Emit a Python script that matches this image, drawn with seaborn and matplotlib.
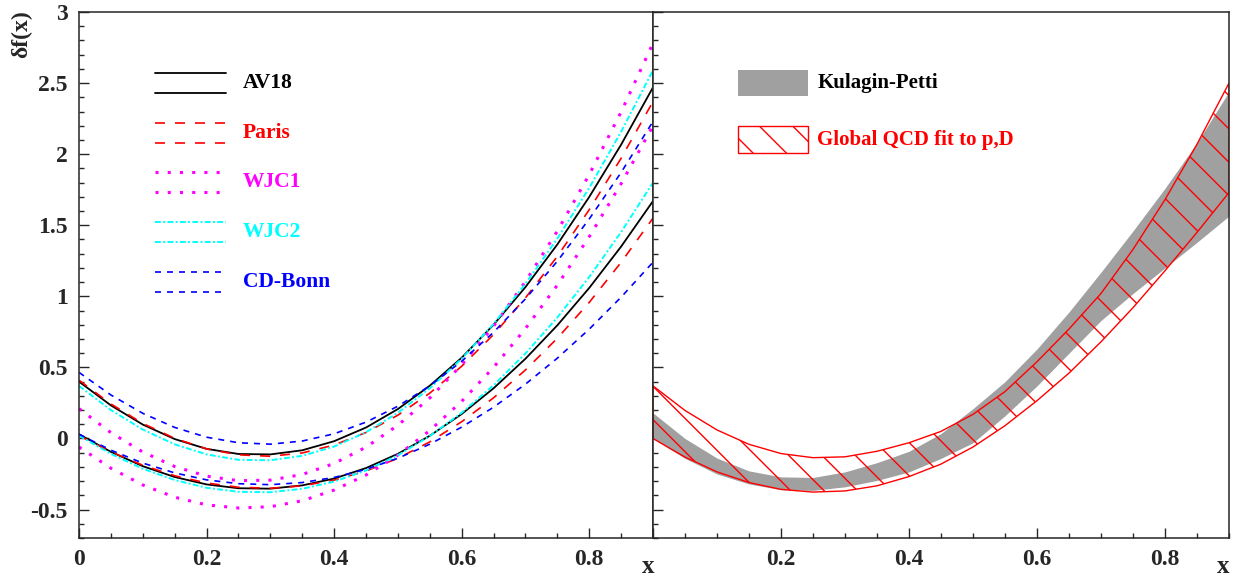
import numpy as np
import seaborn as sns
import matplotlib.pyplot as plt
from matplotlib.ticker import MultipleLocator, FuncFormatter
from matplotlib.patches import Rectangle

# x grid the curves were read at
x = [0.0, 0.05, 0.1, 0.15, 0.2, 0.25, 0.3, 0.35, 0.4, 0.45,
     0.5, 0.55, 0.6, 0.65, 0.7, 0.75, 0.8, 0.85, 0.9]

# left panel: upper / lower curve for each deuteron model
av18_hi = [0.40, 0.233, 0.098, -0.004, -0.073, -0.109, -0.112, -0.083, -0.019, 0.077,
           0.207, 0.371, 0.568, 0.800, 1.065, 1.365, 1.699, 2.067, 2.47]
av18_lo = [0.03, -0.094, -0.195, -0.271, -0.323, -0.350, -0.353, -0.330, -0.282, -0.208,
           -0.108, 0.019, 0.172, 0.353, 0.561, 0.796, 1.059, 1.350, 1.67]
paris_hi = [0.41, 0.243, 0.106, 0.001, -0.073, -0.115, -0.125, -0.102, -0.046, 0.042,
            0.164, 0.319, 0.508, 0.731, 0.989, 1.281, 1.609, 1.971, 2.37]
paris_lo = [0.02, -0.094, -0.188, -0.262, -0.313, -0.343, -0.350, -0.333, -0.293, -0.229,
            -0.139, -0.024, 0.118, 0.286, 0.482, 0.705, 0.957, 1.239, 1.55]
wjc1_hi = [0.21, 0.041, -0.095, -0.197, -0.265, -0.297, -0.293, -0.253, -0.176, -0.061,
           0.093, 0.285, 0.518, 0.790, 1.104, 1.459, 1.856, 2.297, 2.78]
wjc1_lo = [-0.06, -0.209, -0.327, -0.413, -0.467, -0.489, -0.480, -0.438, -0.363, -0.257,
           -0.117, 0.056, 0.261, 0.500, 0.773, 1.079, 1.419, 1.792, 2.20]
wjc2_hi = [0.37, 0.200, 0.063, -0.041, -0.112, -0.150, -0.153, -0.122, -0.057, 0.044,
           0.181, 0.353, 0.561, 0.806, 1.088, 1.406, 1.763, 2.158, 2.59]
wjc2_lo = [0.02, -0.108, -0.213, -0.292, -0.347, -0.375, -0.378, -0.354, -0.303, -0.225,
           -0.118, 0.017, 0.181, 0.374, 0.598, 0.851, 1.136, 1.452, 1.80]
cdbonn_hi = [0.465, 0.306, 0.177, 0.078, 0.009, -0.030, -0.040, -0.018, 0.033, 0.115,
             0.227, 0.370, 0.543, 0.747, 0.982, 1.247, 1.544, 1.871, 2.23]
cdbonn_lo = [0.03, -0.082, -0.173, -0.242, -0.291, -0.318, -0.325, -0.310, -0.274, -0.217,
             -0.139, -0.040, 0.080, 0.220, 0.382, 0.565, 0.769, 0.994, 1.24]

# right panel: bands
kp_hi = [0.18, 0.0, -0.138, -0.228, -0.27, -0.274, -0.235, -0.17, -0.09, 0.035,
         0.21, 0.40, 0.63, 0.89, 1.17, 1.46, 1.76, 2.08, 2.44]
kp_lo = [0.0, -0.14, -0.25, -0.32, -0.36, -0.365, -0.34, -0.295, -0.235, -0.14,
         -0.03, 0.16, 0.37, 0.60, 0.83, 1.02, 1.20, 1.38, 1.565]
qcd_hi = [0.37, 0.197, 0.06, -0.041, -0.106, -0.135, -0.129, -0.09, -0.03, 0.05,
          0.17, 0.33, 0.54, 0.77, 1.02, 1.33, 1.68, 2.07, 2.50]
qcd_lo = [0.0, -0.131, -0.235, -0.31, -0.358, -0.377, -0.369, -0.333, -0.268, -0.18,
          -0.06, 0.09, 0.266, 0.46, 0.68, 0.92, 1.18, 1.45, 1.73]

models = ["AV18", "Paris", "WJC1", "WJC2", "CD-Bonn"]
curves = {
    "AV18": (av18_hi, av18_lo),
    "Paris": (paris_hi, paris_lo),
    "WJC1": (wjc1_hi, wjc1_lo),
    "WJC2": (wjc2_hi, wjc2_lo),
    "CD-Bonn": (cdbonn_hi, cdbonn_lo),
}
styles = {
    "AV18": dict(color="black", lw=1.3, linestyle="-"),
    "Paris": dict(color="#ff0000", lw=1.2, linestyle=(0, (6, 6))),
    "WJC1": dict(color="#ff00ff", lw=2.2, linestyle=(0, (1, 3))),
    "WJC2": dict(color="#00ffff", lw=1.4, linestyle=(0, (3, 1.2, 1, 1.2))),
    "CD-Bonn": dict(color="#0000ff", lw=1.2, linestyle=(0, (3.6, 3.6))),
}

sns.set_style("ticks")
plt.rcParams["font.family"] = ["Liberation Serif", "DejaVu Serif"]
plt.rcParams["font.weight"] = "bold"
plt.rcParams["axes.unicode_minus"] = False
plt.rcParams["hatch.linewidth"] = 1.0

fig = plt.figure(figsize=(12.35, 5.81), dpi=100)
bot, hgt = 1 - 538 / 581, 526 / 581
axL = fig.add_axes([79 / 1235, bot, 574 / 1235, hgt])
axR = fig.add_axes([653 / 1235, bot, 576 / 1235, hgt])

for m in models:
    hi, lo = curves[m]
    sns.lineplot(x=x, y=hi, ax=axL, legend=False, **styles[m])
    sns.lineplot(x=x, y=lo, ax=axL, legend=False, **styles[m])

# hand-made legend: two line samples + coloured name
for i, m in enumerate(models):
    y0 = 0.865 - i * 0.0945
    st = styles[m]
    for dy in (0.019, -0.019):
        axL.plot([0.132, 0.256], [y0 + dy, y0 + dy], transform=axL.transAxes, **st)
    axL.text(0.286, y0, m, transform=axL.transAxes, va="center", ha="left",
             fontsize=15.5, color=st["color"], fontweight="bold")

axR.fill_between(x, kp_lo, kp_hi, color="#a0a0a0", lw=0)
axR.fill_between(x, qcd_lo, qcd_hi, facecolor="none", edgecolor="#ff0000", hatch="\\", lw=1.0)

axR.add_patch(Rectangle((0.148, 0.840), 0.121, 0.050, transform=axR.transAxes,
                        facecolor="#a0a0a0", edgecolor="none"))
axR.text(0.285, 0.865, "Kulagin-Petti", transform=axR.transAxes, va="center",
         fontsize=15, color="black", fontweight="bold")
axR.add_patch(Rectangle((0.148, 0.7325), 0.121, 0.050, transform=axR.transAxes,
                        facecolor="none", edgecolor="#ff0000", hatch="\\", lw=1.0))
axR.text(0.285, 0.757, "Global QCD fit to p,D", transform=axR.transAxes, va="center",
         fontsize=15, color="#ff0000", fontweight="bold")

fmt = FuncFormatter(lambda v, _: "" if abs(v) < 1e-9 else f"{v:g}")
for ax in (axL, axR):
    ax.set_xlim(0, 0.9)
    ax.set_ylim(-0.7, 3)
    ax.xaxis.set_major_locator(MultipleLocator(0.2))
    ax.xaxis.set_minor_locator(MultipleLocator(0.05))
    ax.yaxis.set_major_locator(MultipleLocator(0.5))
    ax.yaxis.set_minor_locator(MultipleLocator(0.1))
    ax.tick_params(which="both", direction="in", top=False, right=False, width=1.0,
                   labelsize=17, pad=8)
    ax.tick_params(which="major", length=7)
    ax.tick_params(which="minor", length=3.3)
    for s in ax.spines.values():
        s.set_visible(True)
        s.set_linewidth(1.1)
    ax.set_xlabel("")
    ax.set_ylabel("")
    for lab in ax.get_xticklabels() + ax.get_yticklabels():
        lab.set_fontweight("bold")

axL.xaxis.set_major_formatter(FuncFormatter(lambda v, _: f"{v:g}"))
axL.yaxis.set_major_formatter(FuncFormatter(lambda v, _: f"{v:g}"))
axR.xaxis.set_major_formatter(fmt)
axR.tick_params(labelleft=False)

fig.text(654 / 1235, 0.014, "x", ha="right", va="baseline", fontsize=18, fontweight="bold")
fig.text(1229 / 1235, 0.014, "x", ha="right", va="baseline", fontsize=18, fontweight="bold")
fig.text(22 / 1235, 1 - 10 / 581, "δf(x)", rotation=90, ha="center", va="top",
         fontsize=17, fontweight="bold")

fig.savefig("out.png", dpi=100)
